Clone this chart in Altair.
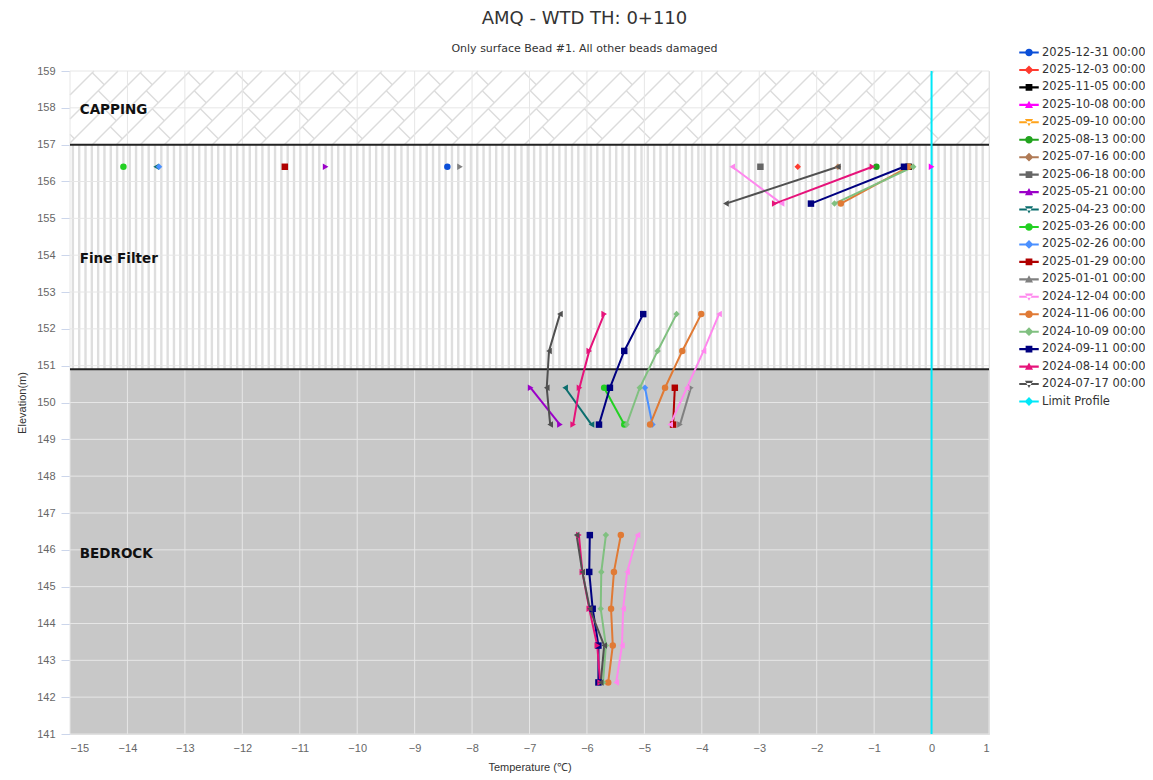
import altair as alt
import pandas as pd
import numpy as np

# ---------------- data ----------------
ELEV = [156.4, 155.4, 154.4, 153.4, 152.4, 151.4, 150.4, 149.4,
        148.4, 147.4, 146.4, 145.4, 144.4, 143.4, 142.4]
N = None

series_names = [
    "2025-12-31 00:00", "2025-12-03 00:00", "2025-11-05 00:00", "2025-10-08 00:00",
    "2025-09-10 00:00", "2025-08-13 00:00", "2025-07-16 00:00", "2025-06-18 00:00",
    "2025-05-21 00:00", "2025-04-23 00:00", "2025-03-26 00:00", "2025-02-26 00:00",
    "2025-01-29 00:00", "2025-01-01 00:00", "2024-12-04 00:00", "2024-11-06 00:00",
    "2024-10-09 00:00", "2024-09-11 00:00", "2024-08-14 00:00", "2024-07-17 00:00",
]
series_colors = [
    "#0b4fd8", "#ff3b2f", "#000000", "#ff00ff",
    "#ffa31a", "#22a31e", "#b07a55", "#666666",
    "#9b00c8", "#0b6e6e", "#22d022", "#4a90ff",
    "#b00000", "#808080", "#ff88ee", "#e07a35",
    "#80c080", "#000080", "#e6137a", "#505050",
]
series_markers = ["circle", "diamond", "square", "triangle", "triangle-down"] * 4

t_20251231 = [-8.43, N, N, N, N, N, N, N, N, N, N, N, N, N, N]
t_20251203 = [-2.33, N, N, N, N, N, N, N, N, N, N, N, N, N, N]
t_20251105 = [-0.40, N, N, N, N, N, N, N, N, N, N, N, N, N, N]
t_20251008 = [0.00, N, N, N, N, N, N, N, N, N, N, N, N, N, N]
t_20250910 = [-0.45, N, N, N, N, N, N, N, N, N, N, N, N, N, N]
t_20250813 = [-0.96, N, N, N, N, N, N, N, N, N, N, N, N, N, N]
t_20250716 = [-1.63, N, N, N, N, N, N, N, N, N, N, N, N, N, N]
t_20250618 = [-2.98, N, N, N, N, N, N, N, N, N, N, N, N, N, N]
t_20250521 = [-10.55, N, N, N, N, N, -6.98, -6.47, N, N, N, N, N, N, N]
t_20250423 = [-13.50, N, N, N, N, N, -6.38, -5.92, N, N, N, N, N, N, N]
t_20250326 = [-14.07, N, N, N, N, N, -5.70, -5.35, N, N, N, N, N, N, N]
t_20250226 = [-13.45, N, N, N, N, N, -4.99, -4.86, N, N, N, N, N, N, N]
t_20250129 = [-11.26, N, N, N, N, N, -4.47, -4.50, N, N, N, N, N, N, N]
t_20250101 = [-8.21, N, N, N, N, N, -4.19, -4.38, N, N, N, N, N, N, N]
t_20241204 = [-3.47, -2.61, N, N, -3.70, -3.97, -4.26, -4.55, N, N, -5.12, -5.30, -5.37, -5.39, -5.49]
t_20241106 = [-0.40, -1.58, N, N, -4.01, -4.34, -4.64, -4.90, N, N, -5.41, -5.53, -5.58, -5.55, -5.63]
t_20241009 = [-0.32, -1.69, N, N, -4.44, -4.77, -5.08, -5.31, N, N, -5.67, -5.75, -5.76, -5.67, -5.72]
t_20240911 = [-0.48, -2.10, N, N, -5.02, -5.35, -5.60, -5.79, N, N, -5.95, -5.96, -5.90, -5.80, -5.80]
t_20240814 = [-1.03, -2.73, N, N, -5.70, -5.96, -6.13, -6.24, N, N, -6.14, -6.08, -5.96, -5.82, -5.77]
t_20240717 = [-1.63, -3.58, N, N, -6.47, -6.66, -6.70, -6.64, N, N, -6.18, -6.08, -5.95, -5.70, -5.76]

series_temps = [
    t_20251231, t_20251203, t_20251105, t_20251008, t_20250910, t_20250813,
    t_20250716, t_20250618, t_20250521, t_20250423, t_20250326, t_20250226,
    t_20250129, t_20250101, t_20241204, t_20241106, t_20241009, t_20240911,
    t_20240814, t_20240717,
]

limit_name = "Limit Profile"
limit_color = "#00e8f8"
limit_temp = [0.0, 0.0]
limit_elev = [141.0, 159.0]

zone_names = ["CAPPING", "Fine Filter", "BEDROCK"]
zone_low = [157.0, 150.9, 141.0]
zone_high = [159.0, 157.0, 150.9]
zone_fill = ["#ffffff", "#ffffff", "#c8c8c8"]
zone_label_elev = [157.95, 153.9, 145.9]

X_MIN, X_MAX = -15, 1
Y_MIN, Y_MAX = 141, 159
x_ticks = list(range(X_MIN, X_MAX + 1))
y_ticks = list(range(Y_MIN, Y_MAX + 1))

W, H = 919, 663

# ---------------- tables ----------------
chart_shape_map = {"circle": "circle", "diamond": "diamond", "square": "square",
                   "triangle": "triangle-right", "triangle-down": "triangle-left"}

rows = []
for name, temps, mk in zip(series_names, series_temps, series_markers):
    seg = 0
    prev_none = True
    for i, v in enumerate(temps):
        if v is None:
            if not prev_none:
                seg += 1
            prev_none = True
            continue
        prev_none = False
        rows.append({"series": name, "t": v, "e": ELEV[i], "idx": i,
                     "seg": f"{name}|{seg}", "mk": chart_shape_map[mk]})
df = pd.DataFrame(rows)

df_limit = pd.DataFrame({"series": limit_name, "t": limit_temp, "e": limit_elev, "idx": [0, 1]})

df_zone = pd.DataFrame({"name": zone_names, "lo": zone_low, "hi": zone_high, "fill": zone_fill,
                        "x0": X_MIN, "x1": X_MAX, "le": zone_label_elev,
                        "lx": X_MIN + 0.17})

# decorative hatch of the Fine Filter band (vertical stripes)
stripe_x = np.arange(X_MIN + 0.05, X_MAX, 0.11)
df_stripes = pd.DataFrame({"x": stripe_x, "y0": 150.9, "y1": 157.0})

# decorative brick hatch of the CAPPING band
kx = W / (X_MAX - X_MIN)
ky = H / (Y_MAX - Y_MIN)
band_h = (159.0 - 157.0) * ky
s_px = 24.0
lh_px = 36.0
segs = []
X0 = -band_h - s_px
i = 0
while X0 < W + s_px:
    lo = max(0.0, -X0)
    hi = min(band_h, W - X0)
    if hi > lo:
        segs.append((X0 + lo, lo, X0 + hi, hi))
    h = (i % 2) * lh_px / 2
    while h < band_h + s_px:
        tlo = max(0.0, h - band_h, -(X0 + h))
        thi = min(s_px / 2, h, W - X0 - h)
        if thi > tlo:
            segs.append((X0 + h + tlo, h - tlo, X0 + h + thi, h - thi))
        h += lh_px
    X0 += s_px
    i += 1
df_brick = pd.DataFrame({
    "x": [X_MIN + a / kx for a, b, c, d in segs],
    "y": [157.0 + b / ky for a, b, c, d in segs],
    "x2": [X_MIN + c / kx for a, b, c, d in segs],
    "y2": [157.0 + d / ky for a, b, c, d in segs],
})

df_vgrid = pd.DataFrame({"x": x_ticks, "y0": Y_MIN, "y1": Y_MAX})
df_hgrid = pd.DataFrame({"y": y_ticks, "x0": X_MIN, "x1": X_MAX})
df_bounds = pd.DataFrame({"y": [157.0, 150.9], "x0": X_MIN, "x1": X_MAX})

# ---------------- scales / guides ----------------
xs = alt.Scale(domain=[X_MIN, X_MAX], nice=False, zero=False)
ys = alt.Scale(domain=[Y_MIN, Y_MAX], nice=False, zero=False)

legend_names = series_names + [limit_name]
legend_colors = series_colors + [limit_color]
color_scale = alt.Scale(domain=legend_names, range=legend_colors)

LINE = "M-1.5,-0.16H1.5V0.16H-1.5Z"
ang = np.linspace(0, 2 * np.pi, 17)[:-1]
CIRC = "M" + "L".join(f"{0.58*np.cos(a):.3f},{0.58*np.sin(a):.3f}" for a in ang) + "Z"
leg_marker_paths = {
    "circle": CIRC,
    "diamond": "M0,-0.68L0.68,0L0,0.68L-0.68,0Z",
    "square": "M-0.52,-0.52H0.52V0.52H-0.52Z",
    "triangle": "M0,-0.62L0.62,0.5L-0.62,0.5Z",
    "triangle-down": "M0,0.62L0.62,-0.5L-0.62,-0.5Z",
}
legend_paths = [LINE + leg_marker_paths[m] for m in series_markers] + [LINE + leg_marker_paths["diamond"]]
names_js = "[" + ",".join(f"'{n}'" for n in legend_names) + "]"
paths_js = "[" + ",".join(f"'{p}'" for p in legend_paths) + "]"
symbol_expr = f"{paths_js}[indexof({names_js}, datum.value)]"

legend = alt.Legend(
    orient="none", legendX=952.5, legendY=-25.0, title=None, padding=0,
    symbolType={"expr": symbol_expr}, symbolSize=169, symbolStrokeWidth=0,
    rowPadding=5.45, labelOffset=6.5, labelFont="DejaVu Sans", labelFontSize=11.5,
    labelFontWeight="normal", labelColor="#333333", symbolOpacity=1, labelLimit=200,
)

AXIS_FONT = "'Liberation Sans', Arial, sans-serif"
x_axis = alt.Axis(values=x_ticks, format="d", grid=False, ticks=False, domain=False,
                  labelFont=AXIS_FONT, labelFontSize=11, labelColor="#666666", labelPadding=8,
                  title="Temperature (℃)", titleFont=AXIS_FONT, titleFontSize=11,
                  titleFontWeight="normal", titleColor="#333333", titlePadding=8)
y_axis = alt.Axis(values=y_ticks, format="d", grid=False, ticks=True, tickSize=9,
                  tickColor="#ccd6eb", domain=False,
                  labelFont=AXIS_FONT, labelFontSize=11, labelColor="#666666", labelPadding=6,
                  title="Elevation(m)", titleFont=AXIS_FONT, titleFontSize=11,
                  titleFontWeight="normal", titleColor="#333333", titlePadding=9)


def X(f):
    return alt.X(f, scale=xs, axis=x_axis)


def Y(f):
    return alt.Y(f, scale=ys, axis=y_axis)


def C():
    return alt.Color("series:N", scale=color_scale, legend=legend)


# ---------------- layers ----------------
bands = alt.Chart(df_zone).mark_rect().encode(
    x=X("x0:Q"), x2="x1:Q", y=Y("lo:Q"), y2="hi:Q",
    fill=alt.Fill("fill:N", scale=None),
)

stripes = alt.Chart(df_stripes).mark_rule(color="#dedede", strokeWidth=2.4).encode(
    x=X("x:Q"), y=Y("y0:Q"), y2="y1:Q")

bricks = alt.Chart(df_brick).mark_rule(color="#dcdcdc", strokeWidth=1.4).encode(
    x=X("x:Q"), y=Y("y:Q"), x2="x2:Q", y2="y2:Q")

vgrid = alt.Chart(df_vgrid).mark_rule(color="#e6e6e6", strokeWidth=1).encode(
    x=X("x:Q"), y=Y("y0:Q"), y2="y1:Q")

hgrid = alt.Chart(df_hgrid).mark_rule(color="#e6e6e6", strokeWidth=1).encode(
    y=Y("y:Q"), x=X("x0:Q"), x2="x1:Q")

bounds = alt.Chart(df_bounds).mark_rule(color="#222222", strokeWidth=2).encode(
    y=Y("y:Q"), x=X("x0:Q"), x2="x1:Q")

labels = alt.Chart(df_zone).mark_text(
    align="left", baseline="middle", font="DejaVu Sans", fontSize=13.5,
    fontWeight="bold", color="#111111").encode(
    x=X("lx:Q"), y=Y("le:Q"), text="name:N")

lines = alt.Chart(df).mark_line(strokeWidth=2).encode(
    x=X("t:Q"), y=Y("e:Q"), color=C(), detail="seg:N", order="idx:Q")

limit = alt.Chart(df_limit).mark_line(strokeWidth=2).encode(
    x=X("t:Q"), y=Y("e:Q"), color=C(), order="idx:Q")

points = alt.Chart(df).mark_point(filled=True, size=42, opacity=1).encode(
    x=X("t:Q"), y=Y("e:Q"), color=C(),
    shape=alt.Shape("mk:N", scale=None))

chart = alt.layer(bands, stripes, bricks, vgrid, hgrid, bounds, labels, lines, limit, points).properties(
    width=W, height=H,
    autosize=alt.AutoSizeParams(type="none"),
    padding={"left": 62, "top": 63, "right": 156, "bottom": 40},
    title=alt.TitleParams(
        text="AMQ - WTD TH: 0+110",
        subtitle="Only surface Bead #1. All other beads damaged",
        font="DejaVu Sans", fontSize=18, fontWeight="normal", color="#333333",
        subtitleFont="DejaVu Sans", subtitleFontSize=11, subtitleColor="#333333",
        anchor="middle", frame="group", dx=55, offset=-8, subtitlePadding=15,
    ),
).configure_view(stroke="#3a3a3a", strokeWidth=2).configure(background="#ffffff")

chart.save("out.html", embed_options={"renderer": "svg", "actions": False})
